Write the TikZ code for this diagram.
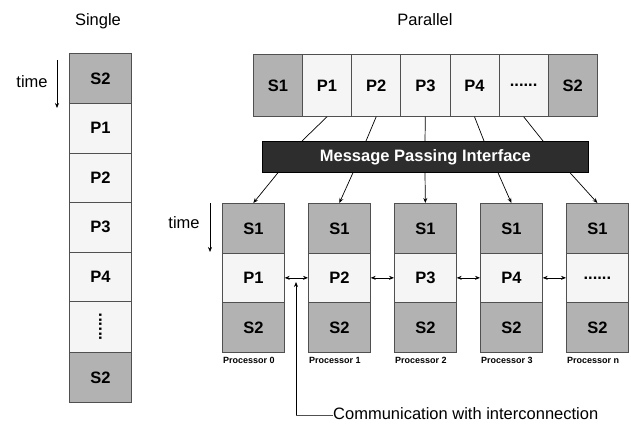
\documentclass[tikz,border=0pt]{standalone}
\usepackage{fontspec}
\setmainfont{Liberation Sans}
\usetikzlibrary{arrows.meta}
\definecolor{sgray}{RGB}{178,178,178}
\definecolor{pwhite}{RGB}{245,245,245}
\definecolor{mpigray}{RGB}{45,45,45}
\definecolor{edgec}{RGB}{80,80,80}
\newcommand{\mydots}{......}
\begin{document}
\begin{tikzpicture}[x=1pt,y=-1pt,
  cell/.style={draw=edgec, line width=0.7pt, inner sep=0pt, anchor=north west,
    font=\fontsize{16.5}{18}\selectfont\bfseries},
  scell/.style={cell, fill=sgray},
  pcell/.style={cell, fill=pwhite},
  lbl/.style={font=\fontsize{16.5}{18}\selectfont, inner sep=0pt},
  plbl/.style={font=\fontsize{9}{10}\selectfont\bfseries, inner sep=0pt, anchor=base west},
  conn/.style={line width=0.7pt, black},
  arr/.style={conn, -{Stealth[length=5pt,width=4pt]}},
  darr/.style={conn, {Stealth[length=5pt,width=4pt]}-{Stealth[length=5pt,width=4pt]}}
]
\useasboundingbox (0,0) rectangle (631,423);

% ---------- Single ----------
\node[lbl] (single) at (98,21) {Single};
\node[lbl] (stime) at (32,82) {time};
\coordinate (st0) at (57,60);
\coordinate (st1) at (57,108);
\draw[arr] (st0) -- (st1);

\node[scell, minimum width=62pt, minimum height=50pt] (sS2a) at (69,53) {S2};
\node[pcell, minimum width=62pt, minimum height=49.5pt] (sP1) at (69,103) {P1};
\node[pcell, minimum width=62pt, minimum height=49.5pt] (sP2) at (69,152.5) {P2};
\node[pcell, minimum width=62pt, minimum height=49.5pt] (sP3) at (69,202) {P3};
\node[pcell, minimum width=62pt, minimum height=49.5pt] (sP4) at (69,251.5) {P4};
\node[pcell, minimum width=62pt, minimum height=51pt] (sPd) at (69,301) {};
\node[rotate=90, font=\fontsize{16.5}{18}\selectfont\bfseries, inner sep=0pt] (sdots) at (sPd.center) {\mydots};
\node[scell, minimum width=62pt, minimum height=50pt] (sS2b) at (69,352) {S2};

% ---------- Parallel ----------
\node[lbl] (parallel) at (425,20) {Parallel};

% top bar
\node[scell, minimum width=49.14pt, minimum height=62pt] (tS1) at (253,54) {S1};
\node[pcell, minimum width=49.14pt, minimum height=62pt] (tP1) at (302.14,54) {P1};
\node[pcell, minimum width=49.14pt, minimum height=62pt] (tP2) at (351.28,54) {P2};
\node[pcell, minimum width=49.14pt, minimum height=62pt] (tP3) at (400.42,54) {P3};
\node[pcell, minimum width=49.14pt, minimum height=62pt] (tP4) at (449.56,54) {P4};
\node[pcell, minimum width=49.14pt, minimum height=62pt] (tPd) at (498.70,54) {\mydots};
\node[scell, minimum width=49.14pt, minimum height=62pt] (tS2) at (547.84,54) {S2};

% MPI
\node[draw=black, line width=0.7pt, fill=mpigray, text=white, inner sep=0pt,
  minimum width=326pt, minimum height=31pt, anchor=north west,
  font=\fontsize{16.5}{18}\selectfont\bfseries] (mpi) at (262,141) {Message Passing Interface};

\draw[conn] (tP1.south) -- ([xshift=40pt]mpi.north west);
\draw[conn] (tP2.south) -- ([xshift=104pt]mpi.north west);
\draw[conn] (tP3.south) -- ([xshift=163pt]mpi.north west);
\draw[conn] (tP4.south) -- ([xshift=222pt]mpi.north west);
\draw[conn] (tPd.south) -- ([xshift=281pt]mpi.north west);

% time (parallel)
\node[lbl] (ptime) at (184,223) {time};
\coordinate (pt0) at (210,203);
\coordinate (pt1) at (210,252);
\draw[arr] (pt0) -- (pt1);

% processors
\foreach \i/\lab/\pl in {0/P1/0, 1/P2/1, 2/P3/2, 3/P4/3, 4/\mydots/n} {
  \pgfmathsetmacro{\xx}{222+86*\i}
  \node[scell, minimum width=62pt, minimum height=50pt] (q\i s1) at (\xx,203) {S1};
  \node[pcell, minimum width=62pt, minimum height=49pt] (q\i p) at (\xx,253) {\lab};
  \node[scell, minimum width=62pt, minimum height=50pt] (q\i s2) at (\xx,302) {S2};
  \node[plbl] (q\i lab) at (\xx+1,363.5) {Processor \pl};
}

\draw[arr] ([xshift=16pt]mpi.south west) -- (q0s1.north);
\draw[arr] ([xshift=91pt]mpi.south west) -- (q1s1.north);
\draw[arr] ([xshift=163pt]mpi.south west) -- (q2s1.north);
\draw[arr] ([xshift=236pt]mpi.south west) -- (q3s1.north);
\draw[arr] ([xshift=308pt]mpi.south west) -- (q4s1.north);

\draw[darr] (q0p.east) -- (q1p.west);
\draw[darr] (q1p.east) -- (q2p.west);
\draw[darr] (q2p.east) -- (q3p.west);
\draw[darr] (q3p.east) -- (q4p.west);

% communication
\node[lbl, anchor=west] (comm) at (333,414) {Communication with interconnection};
\coordinate (c0) at (296,415);
\coordinate (ctip) at (296,282);
\draw[arr] (c0) -- (ctip);
\draw[line width=0.7pt, edgec] (c0) -- (c0 -| comm.west);
\end{tikzpicture}
\end{document}
